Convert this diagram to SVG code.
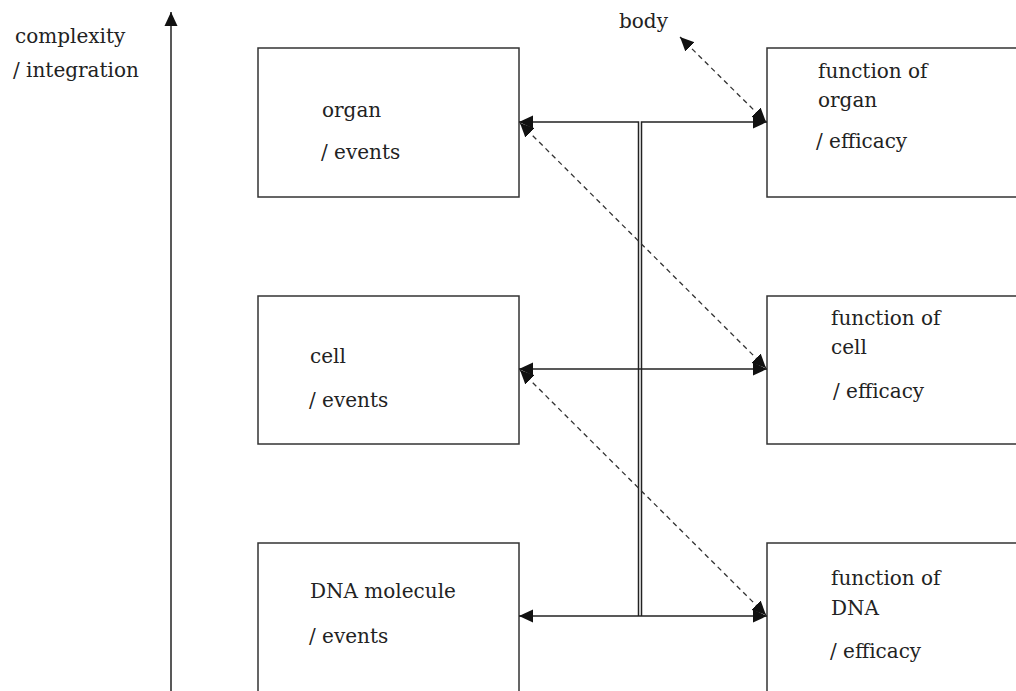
<svg xmlns="http://www.w3.org/2000/svg" width="1016" height="691" viewBox="0 0 1016 691">
<style>
.box{fill:#fff;stroke:#333;stroke-width:1.5}
.t{font-family:"DejaVu Serif","Liberation Serif",serif;font-size:20px;fill:#222}
.ln{fill:none;stroke:#222;stroke-width:1.5}
.dash{fill:none;stroke:#333;stroke-width:1.3;stroke-dasharray:5 4}
</style>
<defs>
<marker id="ah" markerUnits="userSpaceOnUse" markerWidth="15" markerHeight="14" refX="14" refY="7" orient="auto-start-reverse">
<path d="M0,0.5 L14,7 L0,13.5 z" fill="#111"/>
</marker>
</defs>
<rect width="1016" height="691" fill="#fff"/>
<text class="t" x="15" y="43">complexity</text>
<text class="t" x="13" y="77">/ integration</text>
<text class="t" x="619" y="28">body</text>
<g id="organ">
<rect class="box" x="258" y="48" width="261" height="149"/>
<text class="t" x="322" y="117">organ</text>
<text class="t" x="321" y="159">/ events</text>
</g>
<g id="function-organ">
<rect class="box" x="767" y="48" width="270" height="149"/>
<text class="t" x="818" y="78">function of</text>
<text class="t" x="818" y="107">organ</text>
<text class="t" x="816" y="148">/ efficacy</text>
</g>
<g id="cell">
<rect class="box" x="258" y="296" width="261" height="148"/>
<text class="t" x="310" y="363">cell</text>
<text class="t" x="309" y="407">/ events</text>
</g>
<g id="function-cell">
<rect class="box" x="767" y="296" width="270" height="148"/>
<text class="t" x="831" y="325">function of</text>
<text class="t" x="831" y="354">cell</text>
<text class="t" x="833" y="398">/ efficacy</text>
</g>
<g id="dna">
<rect class="box" x="258" y="543" width="261" height="160"/>
<text class="t" x="310" y="598">DNA molecule</text>
<text class="t" x="309" y="643">/ events</text>
</g>
<g id="function-dna">
<rect class="box" x="767" y="543" width="270" height="160"/>
<text class="t" x="831" y="585">function of</text>
<text class="t" x="831" y="615">DNA</text>
<text class="t" x="830" y="658">/ efficacy</text>
</g>
<g id="connectors">
<line class="ln" x1="171" y1="700" x2="171" y2="12" marker-end="url(#ah)"/>
<path class="ln" d="M519,122 H638.5 V616" marker-start="url(#ah)"/>
<path class="ln" d="M767,122 H641.5 V616" marker-start="url(#ah)"/>
<line class="ln" x1="519" y1="369" x2="767" y2="369" marker-start="url(#ah)" marker-end="url(#ah)"/>
<line class="ln" x1="519" y1="616" x2="767" y2="616" marker-start="url(#ah)" marker-end="url(#ah)"/>
<line class="dash" x1="766" y1="122" x2="680" y2="37" marker-start="url(#ah)" marker-end="url(#ah)"/>
<line class="dash" x1="520" y1="123" x2="766" y2="368" marker-start="url(#ah)" marker-end="url(#ah)"/>
<line class="dash" x1="520" y1="370" x2="766" y2="615" marker-start="url(#ah)" marker-end="url(#ah)"/>
</g>
</svg>
